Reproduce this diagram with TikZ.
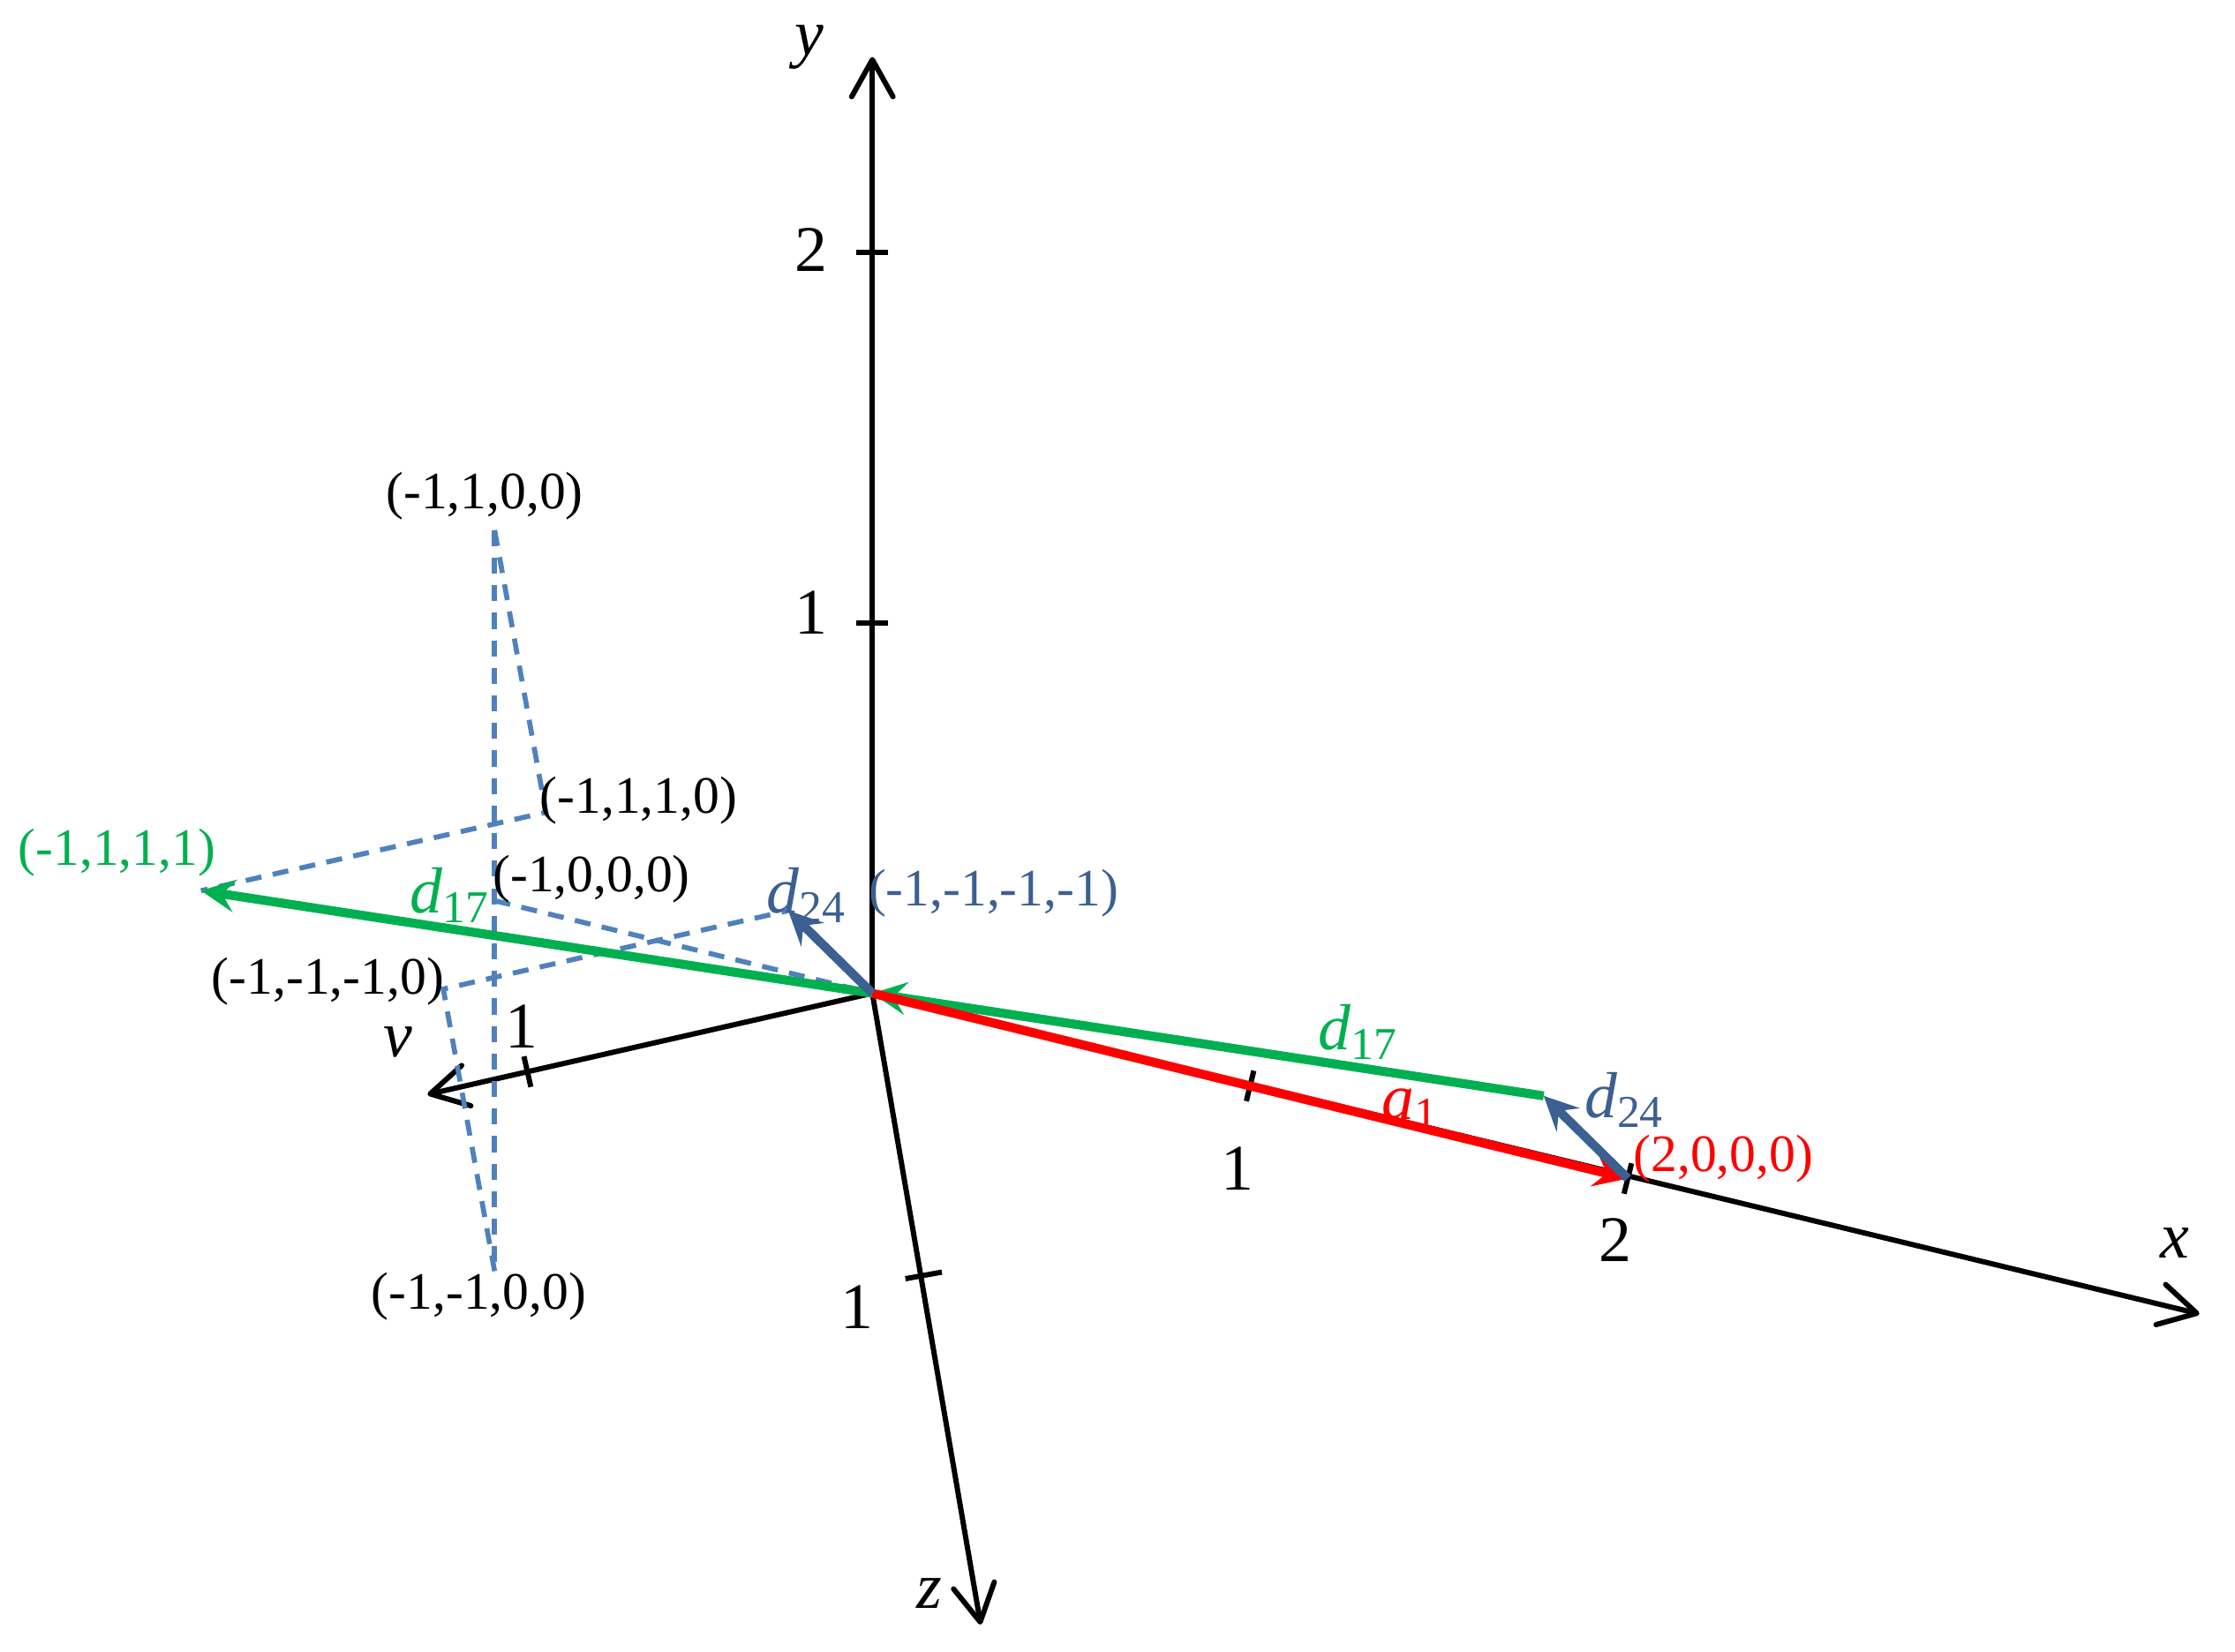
\documentclass[tikz,border=0pt]{standalone}
\usepackage{fontspec}
\setmainfont{Liberation Serif}
\usetikzlibrary{arrows.meta,calc,positioning}
\definecolor{vgreen}{RGB}{0,176,80}
\definecolor{vblue}{RGB}{59,96,145}
\definecolor{dblue}{RGB}{79,129,189}
\tikzset{
	axis/.style = {draw, line width=1.05pt, -{Straight Barb[length=2.6mm,width=2.9mm,round]}},
	axtick/.style = {draw, line width=1.05pt},
	vec/.style = {line width=1.8pt, -{Stealth[length=2.4mm,width=2.3mm,inset=0.9mm]}},
	edge4d/.style = {draw=dblue, line width=1pt, dash pattern=on 3.2pt off 2.3pt},
	lbl/.style = {font=\fontsize{10.5}{12}\selectfont, inner sep=0pt},
	num/.style = {font=\fontsize{13}{15}\selectfont, inner sep=0pt}
}

\begin{document}
\begin{tikzpicture}[]
	\useasboundingbox (-6.12,-4.62) rectangle (9.56,6.97);
	% projected unit vectors
	\coordinate (O) at (0,0);
	\coordinate (ex) at (2.65,-0.65);
	\coordinate (ey) at (0,2.60);
	\coordinate (ez) at (0.36,-1.98);
	\coordinate (ev) at (-2.42,-0.55);
	\coordinate (xend) at (9.31,-2.25);
	\coordinate (yend) at (0,6.57);
	\coordinate (zend) at (0.76,-4.43);
	\coordinate (vend) at (-3.12,-0.71);
	% points
	\coordinate (p2000) at ($2*(ex)$);
	\coordinate (p1000) at ($(O)-(ex)$);
	\coordinate (p1100) at ($(O)-(ex)+(ey)$);
	\coordinate (p1110) at ($(O)-(ex)+(ey)+(ez)$);
	\coordinate (p1111) at ($(O)-(ex)+(ey)+(ez)+(ev)$);
	\coordinate (m1100) at ($(O)-(ex)-(ey)$);
	\coordinate (m1110) at ($(O)-(ex)-(ey)-(ez)$);
	\coordinate (m1111) at ($(O)-(ex)-(ey)-(ez)-(ev)$);
	\coordinate (q) at ($(p2000)+(m1111)$);
	% axes
	\draw[axis] (O) -- (xend);
	\draw[axis] (O) -- (yend);
	\draw[axis] (O) -- (zend);
	\draw[axis] (O) -- (vend);
	\coordinate (x1) at (ex);
	\coordinate (x2) at (p2000);
	\coordinate (y1) at (ey);
	\coordinate (y2) at ($2*(ey)$);
	\coordinate (z1) at (ez);
	\coordinate (v1) at (ev);
	\draw[axtick] ($(x1)!0.11cm!90:(O)$) -- ($(x1)!0.11cm!-90:(O)$);
	\draw[axtick] ($(x2)!0.11cm!90:(O)$) -- ($(x2)!0.11cm!-90:(O)$);
	\draw[axtick] ($(y1)!0.11cm!90:(O)$) -- ($(y1)!0.11cm!-90:(O)$);
	\draw[axtick] ($(y2)!0.11cm!90:(O)$) -- ($(y2)!0.11cm!-90:(O)$);
	\draw[axtick] ($(z1)!0.13cm!90:(O)$) -- ($(z1)!0.13cm!-90:(O)$);
	\draw[axtick] ($(v1)!0.11cm!90:(O)$) -- ($(v1)!0.11cm!-90:(O)$);
	% dashed cross-polytope edges
	\draw[edge4d] (p1100) -- (m1100);
	\draw[edge4d] (p1100) -- (p1110) -- (p1111);
	\draw[edge4d] (m1100) -- (m1110) -- (m1111);
	\draw[edge4d] (p1000) -- (O);
	% vectors
	\draw[vec, vgreen] (O) -- (p1111);
	\draw[vec, vgreen] (q) -- (O);
	\draw[vec, red] (O) -- (p2000);
	\draw[vec, vblue] (O) -- (m1111);
	\draw[vec, vblue] (p2000) -- (q);
	% axis labels
	\node[num] (ylab) at (-0.44,6.64) {\textit{y}};
	\node[num] (ytwo) at (-0.43,5.22) {2};
	\node[num] (yone) at (-0.43,2.67) {1};
	\node[num] (xone) at (2.56,-1.23) {1};
	\node[num] (xtwo) at (5.21,-1.73) {2};
	\node[num] (xlab) at (9.14,-1.75) {\textit{x}};
	\node[num] (zone) at (-0.11,-2.20) {1};
	\node[num] (zlab) at (0.40,-4.21) {\textit{z}};
	\node[num] (vone) at (-2.46,-0.23) {1};
	\node[num] (vlab) at (-3.33,-0.34) {\textit{v}};
	% point labels
	\node[lbl] (l1100) at (-2.72,3.49) {(-1,1,0,0)};
	\node[lbl] (l1110) at (-1.64,1.35) {(-1,1,1,0)};
	\node[lbl, text=vgreen] (l1111) at (-5.30,0.99) {(-1,1,1,1)};
	\node[lbl] (l1000) at (-1.97,0.80) {(-1,0,0,0)};
	\node[lbl] (lm1110) at (-3.82,0.08) {(-1,-1,-1,0)};
	\node[lbl] (lm1100) at (-2.76,-2.13) {(-1,-1,0,0)};
	\node[lbl, text=vblue] (lm1111) at (0.85,0.70) {(-1,-1,-1,-1)};
	\node[lbl, text=red] (l2000) at (5.97,-1.16) {(2,0,0,0)};
	% vector labels
	\node[num, text=vgreen] (dleft) at (-2.96,0.69) {\textit{d}\textsubscript{17}};
	\node[num, text=vblue] (eleft) at (-0.46,0.69) {\textit{d}\textsubscript{24}};
	\node[num, text=vgreen] (dright) at (3.41,-0.27) {\textit{d}\textsubscript{17}};
	\node[num, text=red] (alab) at (3.78,-0.81) {\textit{a}\textsubscript{1}};
	\node[num, text=vblue] (eright) at (5.28,-0.75) {\textit{d}\textsubscript{24}};
\end{tikzpicture}
\end{document}
